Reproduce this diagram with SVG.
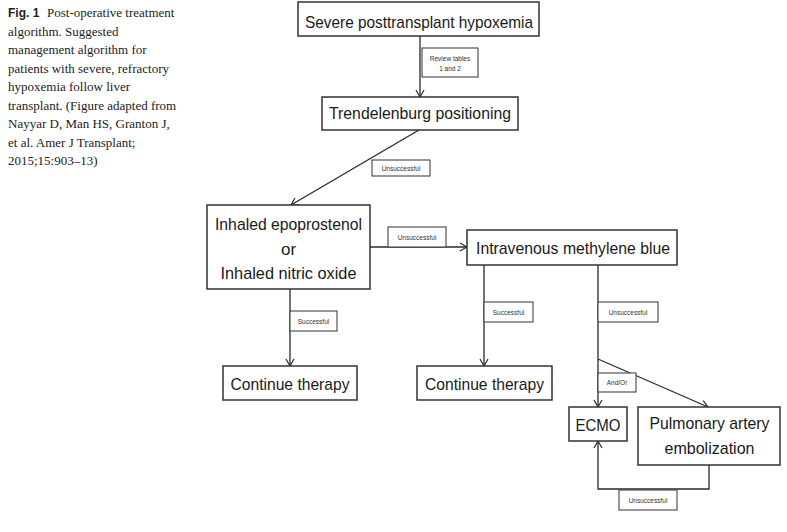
<svg xmlns="http://www.w3.org/2000/svg" width="787" height="532" viewBox="0 0 787 532">
<style>
.cap{font-family:"Liberation Serif","Times New Roman",serif;font-size:13px;fill:#222}
.capb{font-family:"Liberation Sans",Arial,sans-serif;font-size:12px;font-weight:bold;fill:#222}
.box{fill:#fff;stroke:#333;stroke-width:1.5}
.t{font-family:"Liberation Sans",Arial,sans-serif;font-size:17px;fill:#1a1a1a;text-anchor:middle}
.ln{fill:none;stroke:#2a2a2a;stroke-width:1.3}
.lb{fill:#fff;stroke:#444;stroke-width:1.1}
.ls{fill:none;stroke:#888;stroke-width:1}
.lt{font-family:"Liberation Sans",Arial,sans-serif;font-size:6.5px;fill:#333;text-anchor:middle}
</style>
<defs>
<marker id="arr" viewBox="-8 -5 9 10" refX="0" refY="0" markerWidth="9" markerHeight="10" markerUnits="userSpaceOnUse" orient="auto">
<path d="M-7,-4 L0,0 L-7,4" fill="none" stroke="#2a2a2a" stroke-width="1.2"/>
</marker>
</defs>
<rect width="787" height="532" fill="#fff"/>

<g id="caption">
<text x="8" y="17"><tspan class="capb">Fig. 1</tspan></text>
<text class="cap" x="47" y="17">Post-operative treatment</text>
<text class="cap" x="8" y="35.5">algorithm. Suggested</text>
<text class="cap" x="8" y="54">management algorithm for</text>
<text class="cap" x="8" y="72.5">patients with severe, refractory</text>
<text class="cap" x="8" y="91">hypoxemia follow liver</text>
<text class="cap" x="8" y="109.5">transplant. (Figure adapted from</text>
<text class="cap" x="8" y="128">Nayyar D, Man HS, Granton J,</text>
<text class="cap" x="8" y="146.5">et al. Amer J Transplant;</text>
<text class="cap" x="8" y="165">2015;15:903–13)</text>
</g>

<g id="connectors">
<line class="ln" x1="420" y1="36" x2="420" y2="97" marker-end="url(#arr)"/>
<line class="ln" x1="419" y1="130" x2="291" y2="205" marker-end="url(#arr)"/>
<line class="ln" x1="370" y1="247" x2="467" y2="247" marker-end="url(#arr)"/>
<line class="ln" x1="290" y1="289" x2="290" y2="366" marker-end="url(#arr)"/>
<line class="ln" x1="484" y1="265" x2="484" y2="366" marker-end="url(#arr)"/>
<line class="ln" x1="598" y1="265" x2="598" y2="407" marker-end="url(#arr)"/>
<line class="ln" x1="598" y1="359" x2="708" y2="407" marker-end="url(#arr)"/>
<polyline class="ln" points="709,465 709,489 598,489 598,441" marker-end="url(#arr)"/>

<g id="lbl-review">
<rect class="lb" x="422" y="48" width="56" height="29"/>
<text class="lt" x="450" y="61">Review tables</text>
<text class="lt" x="450" y="71">1 and 2</text>
</g>
<g id="lbl-unsucc-1">
<rect class="lb" x="372" y="160" width="58" height="16"/>
<text class="lt" x="401" y="170.5">Unsuccessful</text>
</g>
<g id="lbl-unsucc-2">
<rect class="lb" x="388" y="227" width="58" height="20"/>
<text class="lt" x="417" y="239.5">Unsuccessful</text>
</g>
<g id="lbl-succ-1">
<rect class="lb" x="290" y="311" width="47" height="20"/>
<text class="lt" x="313.5" y="323.5">Successful</text>
</g>
<g id="lbl-succ-2">
<rect class="lb" x="484" y="302" width="49" height="20"/>
<text class="lt" x="508.5" y="314.5">Successful</text>
</g>
<g id="lbl-unsucc-3">
<rect class="lb" x="598" y="302" width="60" height="20"/>
<text class="lt" x="628" y="314.5">Unsuccessful</text>
</g>
<g id="lbl-andor">
<rect class="lb" x="598" y="373" width="38" height="19"/>
<text class="lt" x="617" y="385">And/Or</text>
</g>
<g id="lbl-unsucc-4">
<rect class="lb" x="619" y="490" width="58" height="20"/>
<text class="lt" x="648" y="502.5">Unsuccessful</text>
</g>
</g>

<g id="n-hypoxemia">
<rect class="box" x="298" y="2" width="241" height="34"/>
<text class="t" x="419" y="28" textLength="228" lengthAdjust="spacingAndGlyphs">Severe posttransplant hypoxemia</text>
</g>
<g id="n-trendelenburg">
<rect class="box" x="322" y="97" width="196" height="33"/>
<text class="t" x="420" y="119" textLength="182" lengthAdjust="spacingAndGlyphs">Trendelenburg positioning</text>
</g>
<g id="n-inhaled">
<rect class="box" x="207" y="205" width="163" height="84"/>
<text class="t" x="288.5" y="230" textLength="147" lengthAdjust="spacingAndGlyphs">Inhaled epoprostenol</text>
<text class="t" x="288.5" y="255">or</text>
<text class="t" x="288.5" y="279" textLength="136" lengthAdjust="spacingAndGlyphs">Inhaled nitric oxide</text>
</g>
<g id="n-methylene">
<rect class="box" x="467" y="230" width="210" height="35"/>
<text class="t" x="573" y="254" textLength="194" lengthAdjust="spacingAndGlyphs">Intravenous methylene blue</text>
</g>
<g id="n-continue-1">
<rect class="box" x="223" y="366" width="134" height="34"/>
<text class="t" x="290" y="390" textLength="119" lengthAdjust="spacingAndGlyphs">Continue therapy</text>
</g>
<g id="n-continue-2">
<rect class="box" x="417" y="366" width="135" height="34"/>
<text class="t" x="484.5" y="390" textLength="119" lengthAdjust="spacingAndGlyphs">Continue therapy</text>
</g>
<g id="n-ecmo">
<rect class="box" x="569" y="407" width="58" height="34"/>
<text class="t" x="598" y="431" textLength="45" lengthAdjust="spacingAndGlyphs">ECMO</text>
</g>
<g id="n-embolization">
<rect class="box" x="638" y="407" width="142" height="58"/>
<text class="t" x="709.5" y="429" textLength="120" lengthAdjust="spacingAndGlyphs">Pulmonary artery</text>
<text class="t" x="709.5" y="454" textLength="90" lengthAdjust="spacingAndGlyphs">embolization</text>
</g>
</svg>
